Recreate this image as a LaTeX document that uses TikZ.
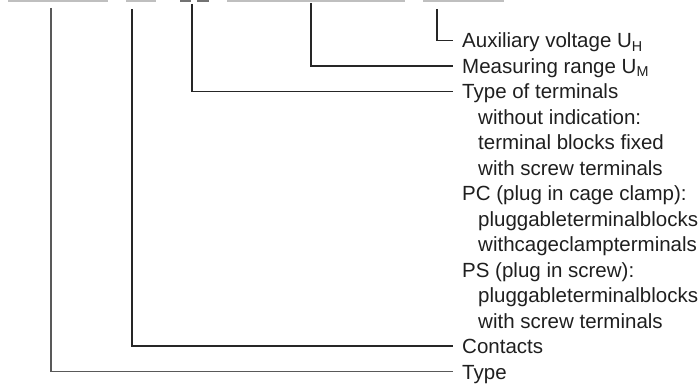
\documentclass[tikz,border=0pt]{standalone}
\usepackage{fontspec}
\setmainfont{Liberation Sans}
\usepackage{tikz}
\usetikzlibrary{positioning,calc}

\begin{document}
\begin{tikzpicture}[x=1pt,y=-1pt,
  lbl/.style={anchor=base west,inner xsep=9pt,inner ysep=0pt,text height=15pt,text depth=0pt,
    text=black!88,font=\fontsize{20.5}{24}\selectfont},
  sub/.style={lbl,xshift=16pt},
  lead/.style={draw=black!85,line width=1.2pt},
  bar/.style={fill=black!25}]
\useasboundingbox (0,0) rectangle (699,385);
% Bars at the top
\fill[bar] (8,0) rectangle (108,2);
\fill[bar] (126,0) rectangle (156,2);
\fill[bar,fill=black!55] (180,0) rectangle (191,2);
\fill[bar,fill=black!55] (197,0) rectangle (209,2);
\fill[bar] (227,0) rectangle (405,2);
\fill[bar] (423,0) rectangle (504,2);
% Labels
\node[lbl] (aux) at (453,48) {Auxiliary voltage U\textsubscript{H}};
\node[lbl] (meas) at (453,73.5) {Measuring range U\textsubscript{M}};
\node[lbl] (term) at (453,98.9) {Type of terminals};
\node[sub] (term1) at (453,124.4) {without indication:};
\node[sub] (term2) at (453,149.8) {terminal blocks fixed};
\node[sub] (term3) at (453,175.3) {with screw terminals};
\node[lbl] (pc) at (453,200.8) {PC (plug in cage clamp):};
\node[sub] (pc1) at (453,226.2) {pluggableterminalblocks};
\node[sub] (pc2) at (453,251.7) {withcageclampterminals};
\node[lbl] (ps) at (453,277.1) {PS (plug in screw):};
\node[sub] (ps1) at (453,302.6) {pluggableterminalblocks};
\node[sub] (ps2) at (453,328.1) {with screw terminals};
\node[lbl] (cont) at (453,353.5) {Contacts};
\node[lbl] (typ) at (453,379) {Type};
% Leads
\coordinate (auxtop) at (437,9);
\coordinate (meastop) at (311,3);
\coordinate (termtop) at (192,4);
\coordinate (conttop) at (132,9);
\coordinate (typtop) at (51,8);
\draw[lead] (auxtop) |- (aux.west);
\draw[lead] (meastop) |- (meas.west);
\draw[lead] (termtop) |- (term.west);
\draw[lead] (conttop) |- (cont.west);
\draw[lead,draw=black!65] (typtop) |- (typ.west);
\end{tikzpicture}
\end{document}
